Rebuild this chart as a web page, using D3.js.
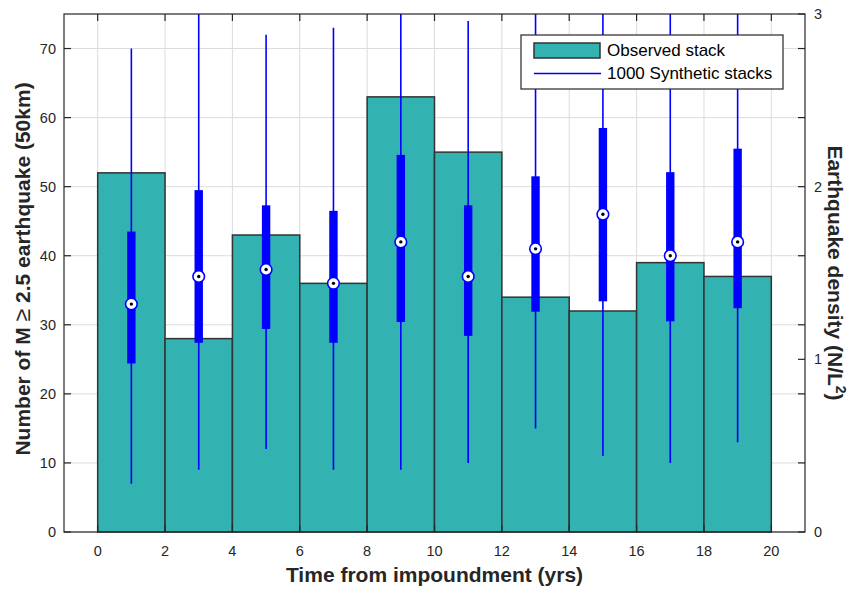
<!DOCTYPE html>
<html>
<head>
<meta charset="utf-8">
<script src="https://cdn.jsdelivr.net/npm/d3@7"></script>
<style>
  body { margin: 0; background: #fff; }
  text { font-family: "Liberation Sans", Arial, sans-serif; }
</style>
</head>
<body>
<div class="vis"></div>
<script>
// Observed stack: 2-year bins
const binStart = [0, 2, 4, 6, 8, 10, 12, 14, 16, 18];
const observed = [52, 28, 43, 36, 63, 55, 34, 32, 39, 37];

// 1000 synthetic stacks, summary per bin
const synthX = [1, 3, 5, 7, 9, 11, 13, 15, 17, 19];
const synthMedian = [33, 37, 38, 36, 42, 37, 41, 46, 40, 42];
const synthQ1 = [24.4, 27.4, 29.4, 27.4, 30.4, 28.4, 31.9, 33.4, 30.5, 32.4];
const synthQ3 = [43.5, 49.5, 47.3, 46.5, 54.6, 47.3, 51.5, 58.5, 52.1, 55.5];
const synthLow = [7, 9, 12, 9, 9, 10, 15, 11, 10, 13];
const synthHigh = [70, 80, 72, 73, 80, 74, 80, 80, 80, 80];

const xTicks = [0, 2, 4, 6, 8, 10, 12, 14, 16, 18, 20];
const yTicks = [0, 10, 20, 30, 40, 50, 60, 70];
const y2Labels = [0, 1, 2, 3];

const W = 854, H = 592;
const margin = { top: 14, right: 49, bottom: 60, left: 64 };
const innerW = W - margin.left - margin.right;
const innerH = H - margin.top - margin.bottom;

const axisColor = "#262626";
const barColor = "#33b2b2";
const blue = "#0000ff";

const svg = d3.select(".vis").append("svg")
    .attr("width", W).attr("height", H);

const g = svg.append("g")
    .attr("transform", `translate(${margin.left},${margin.top})`);

const x = d3.scaleLinear().domain([-1, 21]).range([0, innerW]);
const y = d3.scaleLinear().domain([0, 75]).range([innerH, 0]);
const y2 = d3.scaleLinear().domain([0, 3]).range([innerH, 0]);

// clip for whiskers above the top
g.append("clipPath").attr("id", "plotclip")
    .append("rect").attr("width", innerW).attr("height", innerH);

// grid
g.append("g").selectAll("line").data(xTicks).join("line")
    .attr("x1", d => x(d)).attr("x2", d => x(d))
    .attr("y1", 0).attr("y2", innerH)
    .attr("stroke", "#dcdcdc").attr("stroke-width", 1);
g.append("g").selectAll("line").data(yTicks).join("line")
    .attr("x1", 0).attr("x2", innerW)
    .attr("y1", d => y(d)).attr("y2", d => y(d))
    .attr("stroke", "#dcdcdc").attr("stroke-width", 1);

// bars
g.append("g").selectAll("rect").data(binStart).join("rect")
    .attr("x", d => x(d))
    .attr("width", d => x(d + 2) - x(d))
    .attr("y", (d, i) => y(observed[i]))
    .attr("height", (d, i) => innerH - y(observed[i]))
    .attr("fill", barColor)
    .attr("stroke", "#333")
    .attr("stroke-width", 1.5);

// synthetic box plots
const boxes = g.append("g").attr("clip-path", "url(#plotclip)");
synthX.forEach((sx, i) => {
    const cx = x(sx);
    boxes.append("line")
        .attr("x1", cx).attr("x2", cx)
        .attr("y1", y(synthLow[i])).attr("y2", y(synthHigh[i]))
        .attr("stroke", blue).attr("stroke-width", 1.6);
    boxes.append("rect")
        .attr("x", cx - 4.2).attr("width", 8.4)
        .attr("y", y(synthQ3[i]))
        .attr("height", y(synthQ1[i]) - y(synthQ3[i]))
        .attr("fill", blue);
    boxes.append("circle")
        .attr("cx", cx).attr("cy", y(synthMedian[i])).attr("r", 5.8)
        .attr("fill", "#fff").attr("stroke", blue).attr("stroke-width", 1.6);
    boxes.append("circle")
        .attr("cx", cx).attr("cy", y(synthMedian[i])).attr("r", 1.7)
        .attr("fill", "#000");
});

// axes (ticks inward)
const tickLen = 7;
const axes = g.append("g");
axes.append("rect").attr("width", innerW).attr("height", innerH)
    .attr("fill", "none").attr("stroke", axisColor).attr("stroke-width", 1.2);

xTicks.forEach(t => {
    axes.append("line").attr("x1", x(t)).attr("x2", x(t))
        .attr("y1", innerH).attr("y2", innerH - tickLen)
        .attr("stroke", axisColor).attr("stroke-width", 1.2);
    axes.append("line").attr("x1", x(t)).attr("x2", x(t))
        .attr("y1", 0).attr("y2", tickLen)
        .attr("stroke", axisColor).attr("stroke-width", 1.2);
    axes.append("text").attr("x", x(t)).attr("y", innerH + 24)
        .attr("text-anchor", "middle").attr("font-size", 14.5)
        .attr("fill", axisColor).text(t);
});

yTicks.forEach(t => {
    axes.append("line").attr("x1", 0).attr("x2", tickLen)
        .attr("y1", y(t)).attr("y2", y(t))
        .attr("stroke", axisColor).attr("stroke-width", 1.2);
    axes.append("text").attr("x", -8).attr("y", y(t)).attr("dy", "0.35em")
        .attr("text-anchor", "end").attr("font-size", 14.5)
        .attr("fill", axisColor).text(t);
});

// right axis: ticks aligned with the left grid, labels at integers
yTicks.map(t => t / 25).concat([1, 3]).forEach(t => {
    axes.append("line").attr("x1", innerW).attr("x2", innerW - tickLen)
        .attr("y1", y2(t)).attr("y2", y2(t))
        .attr("stroke", axisColor).attr("stroke-width", 1.2);
});
y2Labels.forEach(t => {
    axes.append("text").attr("x", innerW + 9).attr("y", y2(t)).attr("dy", "0.35em")
        .attr("text-anchor", "start").attr("font-size", 14.5)
        .attr("fill", axisColor).text(t);
});

// axis labels
svg.append("text")
    .attr("x", margin.left + x(10)).attr("y", 582)
    .attr("text-anchor", "middle").attr("font-size", 21).attr("font-weight", "bold")
    .attr("fill", axisColor).text("Time from impoundment (yrs)");

const yl = svg.append("text")
    .attr("transform", `translate(30,${margin.top + innerH / 2 - 4}) rotate(-90)`)
    .attr("text-anchor", "middle").attr("font-size", 21).attr("font-weight", "bold")
    .attr("fill", axisColor);
yl.append("tspan").text("Number of M ");
yl.append("tspan").attr("font-weight", "normal").attr("font-size", 23).text("≥");
yl.append("tspan").text(" 2.5 earthquake (50km)");

const yr = svg.append("text")
    .attr("transform", `translate(828,${margin.top + innerH / 2}) rotate(90)`)
    .attr("text-anchor", "middle").attr("font-size", 21).attr("font-weight", "bold")
    .attr("fill", axisColor);
yr.append("tspan").text("Earthquake density (N/L");
yr.append("tspan").attr("font-size", 14).attr("dy", -8).text("2");
yr.append("tspan").attr("dy", 8).text(")");

// legend
const lg = svg.append("g").attr("transform", "translate(521,35)");
lg.append("rect").attr("width", 262).attr("height", 54)
    .attr("fill", "#fff").attr("stroke", axisColor).attr("stroke-width", 1.2);
lg.append("rect").attr("x", 13).attr("y", 8).attr("width", 66).attr("height", 15)
    .attr("fill", barColor).attr("stroke", "#333").attr("stroke-width", 1.5);
lg.append("line").attr("x1", 13).attr("x2", 80).attr("y1", 38.5).attr("y2", 38.5)
    .attr("stroke", blue).attr("stroke-width", 1.6);
lg.append("text").attr("x", 86).attr("y", 15.5).attr("dy", "0.35em")
    .attr("font-size", 17).attr("fill", "#000").text("Observed stack");
lg.append("text").attr("x", 86).attr("y", 38.5).attr("dy", "0.35em")
    .attr("font-size", 17).attr("fill", "#000").text("1000 Synthetic stacks");
</script>
</body>
</html>
